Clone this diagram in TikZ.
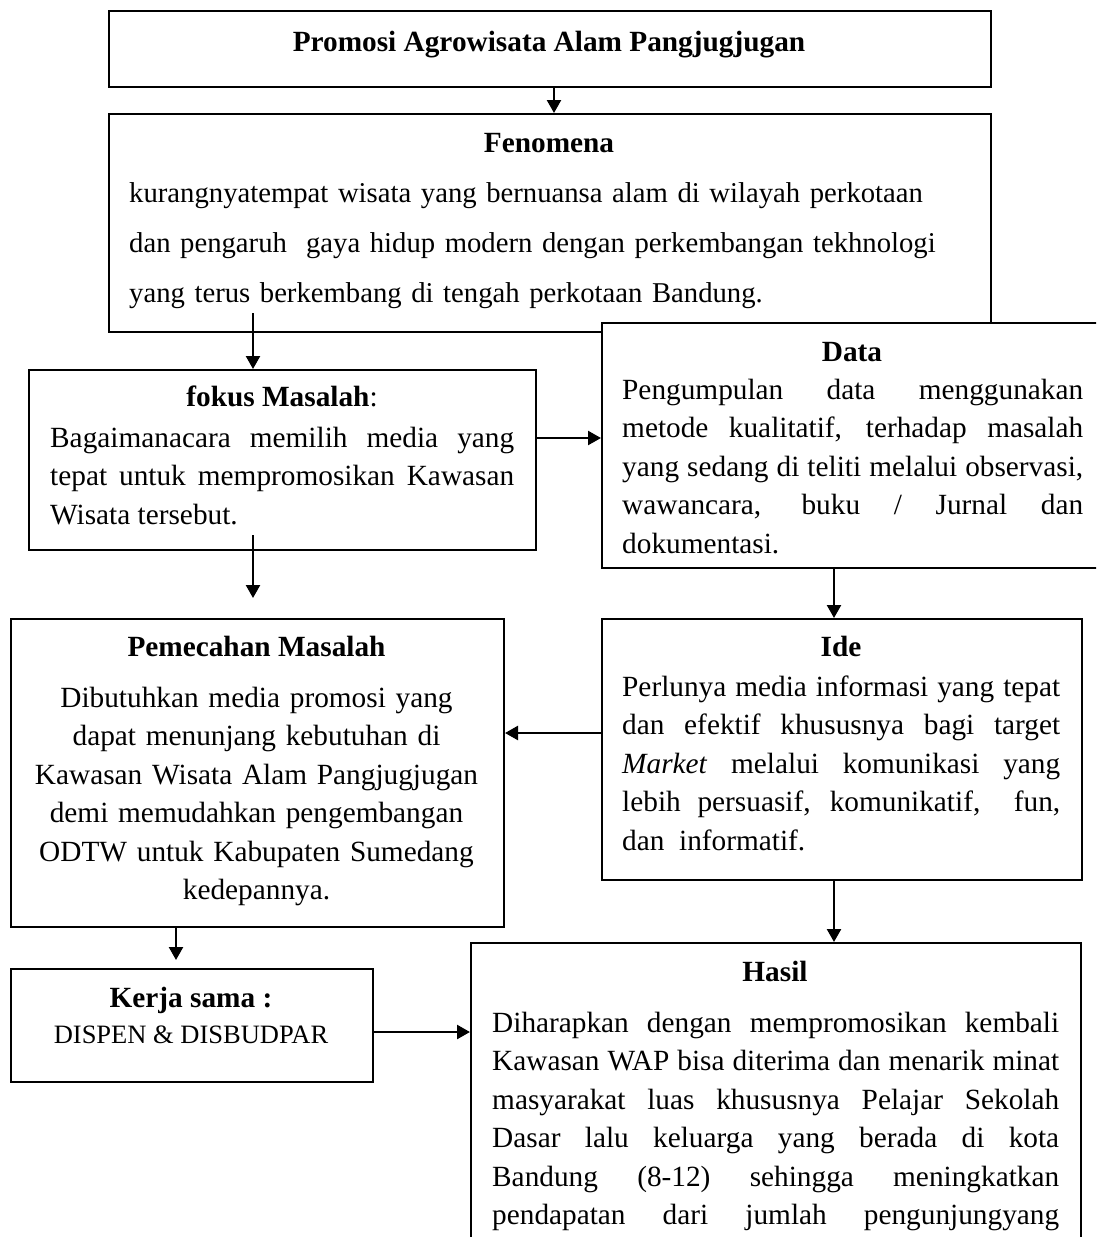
\documentclass[tikz,border=0pt]{standalone}
\usepackage{fontspec}
\setmainfont{Liberation Serif}
\usetikzlibrary{arrows.meta}

\tikzset{
  kotak/.style={draw,line width=2pt,anchor=north west,inner sep=0pt},
  panah/.style={line width=2.4pt,-{Triangle[width=14pt,length=13pt]}},
  judul/.style={anchor=base,inner sep=0pt,font=\fontsize{29.3}{38.5}\selectfont\bfseries},
  isi/.style={anchor=base west,inner sep=0pt,align=justify,font=\fontsize{29.3}{38.5}\selectfont},
}

\begin{document}
\begin{tikzpicture}[x=1pt,y=-1pt]
      \useasboundingbox (0,0) rectangle (1096,1237);
      \clip (0,0) rectangle (1096,1237);
      \node[kotak,minimum width=882pt,minimum height=76pt] (promosi) at (108,10) {};
      \node[kotak,minimum width=882pt,minimum height=218pt] (fenomena) at (108,113) {};
      \node[kotak,minimum width=507pt,minimum height=180pt] (fokus) at (28,369) {};
      \node[kotak,minimum width=502pt,minimum height=245pt,fill=white] (data) at (601,322) {};
      \node[kotak,minimum width=493pt,minimum height=308pt] (pemecahan) at (10,618) {};
      \node[kotak,minimum width=480pt,minimum height=261pt] (ide) at (601,618) {};
      \node[kotak,minimum width=362pt,minimum height=113pt] (kerja) at (10,968) {};
      \node[kotak,minimum width=610pt,minimum height=400pt] (hasil) at (470,942) {};

      \node[judul] (tPromosi) at (549,51) {Promosi Agrowisata Alam Pangjugjugan};
      \node[judul] (tFenomena) at (549,152) {Fenomena};
      \node[isi,align=left,text width=860pt,font=\fontsize{28.7}{50}\selectfont] (iFenomena) at (129,202)
        {kurangnyatempat wisata yang bernuansa alam di wilayah perkotaan\\
         dan pengaruh\ \ gaya hidup modern dengan perkembangan tekhnologi\\
         yang terus berkembang di tengah perkotaan Bandung.};
      \node[judul] (tFokus) at (282,406) {fokus Masalah\textnormal{:}};
      \node[isi,text width=464pt] (iFokus) at (50,447)
        {Bagaimanacara memilih media yang\linebreak tepat untuk mempromosikan Kawasan\linebreak Wisata tersebut.};
      \node[judul] (tData) at (852,361) {Data};
      \node[isi,text width=461pt] (iData) at (622,399)
        {Pengumpulan data menggunakan\linebreak metode kualitatif, terhadap masalah\linebreak
         yang sedang di teliti melalui observasi,\linebreak wawancara, buku / Jurnal dan\linebreak dokumentasi.};
      \node[judul] (tPemecahan) at (256.5,656) {Pemecahan Masalah};
      \node[isi,anchor=base,align=center,text width=480pt] (iPemecahan) at (256.5,707)
        {Dibutuhkan media promosi yang\\ dapat menunjang kebutuhan di\\ Kawasan Wisata Alam Pangjugjugan\\
         demi memudahkan pengembangan\\ ODTW untuk Kabupaten Sumedang\\ kedepannya.};
      \node[judul] (tIde) at (841,656) {Ide};
      \node[isi,text width=438pt] (iIde) at (622,696)
        {Perlunya media informasi yang tepat\linebreak dan efektif khususnya bagi target\linebreak
         \textit{Market} melalui komunikasi yang\linebreak lebih persuasif, komunikatif,\ \ fun,\linebreak dan\ \ informatif.};
      \node[judul] (tKerja) at (191,1007) {Kerja sama :};
      \node[isi,anchor=base,align=center,font=\fontsize{26.5}{32}\selectfont] (iKerja) at (191,1043) {DISPEN \& DISBUDPAR};
      \node[judul] (tHasil) at (775,981) {Hasil};
      \node[isi,text width=567pt] (iHasil) at (492,1032)
        {Diharapkan dengan mempromosikan kembali\linebreak Kawasan WAP bisa diterima dan menarik minat\linebreak
         masyarakat luas khususnya Pelajar Sekolah\linebreak Dasar lalu keluarga yang berada di kota\linebreak
         Bandung (8-12) sehingga meningkatkan\linebreak pendapatan dari jumlah pengunjungyang\linebreak\mbox{}};

      \coordinate (a1) at (253,313);
      \coordinate (a3) at (253,535);
      \coordinate (kanan) at (834,0);
      \coordinate (kiri) at (176,0);
      \draw[panah] ([xshift=4pt]promosi.south) -- ([xshift=4pt]fenomena.north);
      \draw[panah] (a1) -- (a1 |- fokus.north);
      \draw[panah] (fokus.east |- 0,438) -- (data.west |- 0,438);
      \draw[panah,shorten >=20pt] (a3) -- (a3 |- pemecahan.north);
      \draw[panah] (data.south -| kanan) -- (ide.north -| kanan);
      \draw[panah] (ide.west |- 0,733) -- (pemecahan.east |- 0,733);
      \draw[panah] (ide.south -| kanan) -- (hasil.north -| kanan);
      \draw[panah,shorten >=8pt] (pemecahan.south -| kiri) -- (kerja.north -| kiri);
      \draw[panah] (kerja.east |- 0,1032) -- (hasil.west |- 0,1032);
    \end{tikzpicture}
\end{document}
